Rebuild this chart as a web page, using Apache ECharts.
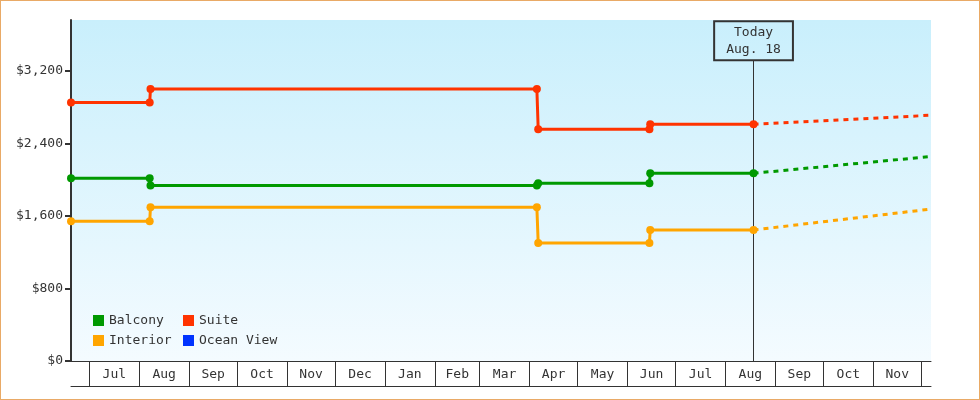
<!DOCTYPE html>
<html><head><meta charset="utf-8">
<script src="https://cdn.jsdelivr.net/npm/echarts@6/dist/echarts.min.js"></script>
<style>html,body{margin:0;padding:0;background:#fff}#c{width:980px;height:400px;outline:1px solid #e9aa66;outline-offset:-1px}</style>
</head><body><div id="c"></div>
<script>
// ---- data ----
const monthStarts = ['2013-07-01','2013-08-01','2013-09-01','2013-10-01','2013-11-01','2013-12-01','2014-01-01','2014-02-01','2014-03-01','2014-04-01','2014-05-01','2014-06-01','2014-07-01','2014-08-01','2014-09-01','2014-10-01','2014-11-01','2014-12-01'];
const monthLabels = ['Jul','Aug','Sep','Oct','Nov','Dec','Jan','Feb','Mar','Apr','May','Jun','Jul','Aug','Sep','Oct','Nov'];
const yTicks = [0, 800, 1600, 2400, 3200];
const pointDates = ['2013-06-19 12:00','2013-08-07 12:00','2013-08-08 00:00','2014-04-05 14:00','2014-04-06 10:00','2014-06-14 16:00','2014-06-15 04:00','2014-08-18 12:00'];
const balcony  = [2015, 2015, 1935, 1935, 1960, 1960, 2070, 2070];
const suite    = [2850, 2850, 3000, 3000, 2555, 2555, 2610, 2610];
const interior = [1540, 1540, 1695, 1695, 1300, 1300, 1445, 1445];
const oceanView = [];
const forecastDates = ['2014-08-18 12:00','2014-12-07 00:00'];
const balconyForecast  = [2070, 2255];
const suiteForecast    = [2610, 2710];
const interiorForecast = [1445, 1675];
const axisStart = '2013-06-19 12:00', axisEnd = '2014-12-07 00:00';
const yMax = 3760;
const today = '2014-08-18 12:00';
const todayLabel = 'Today\nAug. 18';
const todayBoxBase = 3315;

// ---- helpers ----
function t(s){
  const parts = s.split(' ');
  const d = parts[0].split('-').map(Number);
  const h = (parts[1] || '00:00').split(':').map(Number);
  return new Date(d[0], d[1]-1, d[2], h[0], h[1]).getTime();
}
const FONT = 'DejaVu Sans Mono';
const TXT = '#333';
const colors = {'Balcony':'#009900','Suite':'#ff3300','Interior':'#ffa500','Ocean View':'#0033ff'};
const tickVals = monthStarts.map(t);
const labelVals = [];
const labelMap = {};
for (let i = 0; i < tickVals.length - 1; i++) {
  const m = Math.round((tickVals[i] + tickVals[i+1]) / 2);
  labelVals.push(m);
  labelMap[m] = monthLabels[i];
}
function actual(name, vals){
  const c = colors[name];
  return {type:'line', name, data: pointDates.map((d,i)=>[t(d), vals[i]]),
    symbol:'circle', symbolSize:8, showAllSymbol:true, z:4,
    lineStyle:{width:3, color:c}, itemStyle:{color:c}};
}
function forecast(name, vals){
  const c = colors[name];
  return {type:'line', name, data: forecastDates.map((d,i)=>[t(d), vals[i]]),
    symbol:'none', z:3, lineStyle:{width:3, color:c, type:[5,5]}, itemStyle:{color:c}};
}
const legendText = {color:TXT, fontFamily:FONT, fontSize:13};
const chart = echarts.init(document.getElementById('c'));
chart.setOption({
  animation:false,
  color:[colors['Balcony'], colors['Suite'], colors['Interior'], colors['Ocean View']],
  grid:{left:71, right:49, top:20, bottom:39, show:true, borderWidth:0,
    backgroundColor: new echarts.graphic.LinearGradient(0,0,0,1,[{offset:0,color:'#c9effc'},{offset:1,color:'#f4fbff'}])},
  legend:[
    {orient:'vertical', left:93, top:314, padding:0, itemWidth:11, itemHeight:11, itemGap:7, icon:'rect', data:['Balcony','Interior'], textStyle:legendText},
    {orient:'vertical', left:183, top:314, padding:0, itemWidth:11, itemHeight:11, itemGap:7, icon:'rect', data:['Suite','Ocean View'], textStyle:legendText}
  ],
  xAxis:[
    {type:'value', min:t(axisStart), max:t(axisEnd), position:'bottom',
      axisLine:{show:true, lineStyle:{color:'#333', width:1}},
      axisTick:{show:true, inside:false, length:25, customValues:tickVals, lineStyle:{color:'#333', width:1}},
      axisLabel:{customValues:labelVals, formatter:(v)=>labelMap[v] || '', margin:7, color:TXT, fontFamily:FONT, fontSize:13},
      splitLine:{show:false}},
    {type:'value', min:t(axisStart), max:t(axisEnd), position:'bottom', offset:25,
      axisLine:{show:true, lineStyle:{color:'#333', width:1}},
      axisTick:{show:false}, axisLabel:{show:false}, splitLine:{show:false}}
  ],
  yAxis:{type:'value', min:0, max:yMax,
    axisLine:{show:true, lineStyle:{color:'#333', width:2}},
    axisTick:{show:true, length:6, customValues:yTicks, lineStyle:{color:'#333', width:2}},
    axisLabel:{customValues:yTicks, formatter:(v)=>'$'+Number(v).toLocaleString('en-US'), margin:8, color:TXT, fontFamily:FONT, fontSize:13},
    splitLine:{show:false}},
  series:[
    actual('Balcony', balcony),
    actual('Suite', suite),
    actual('Interior', interior),
    {type:'line', name:'Ocean View', data:oceanView, itemStyle:{color:colors['Ocean View']}, lineStyle:{color:colors['Ocean View']},
      markLine:{silent:true, z:1, symbol:['none','none'], animation:false,
        lineStyle:{color:'#333', width:1, type:'solid'},
        label:{show:true, position:'end', distance:0, formatter:todayLabel, color:TXT, fontFamily:FONT, fontSize:13, lineHeight:17,
          padding:[3,12,2,12], borderColor:'#333', borderWidth:1, backgroundColor:'rgba(0,0,0,0)', align:'center'},
        emphasis:{disabled:true},
        data:[[{coord:[t(today),0]},{coord:[t(today),todayBoxBase]}]]}},
    forecast('Balcony', balconyForecast),
    forecast('Suite', suiteForecast),
    forecast('Interior', interiorForecast)
  ]
});
</script>
</body></html>
